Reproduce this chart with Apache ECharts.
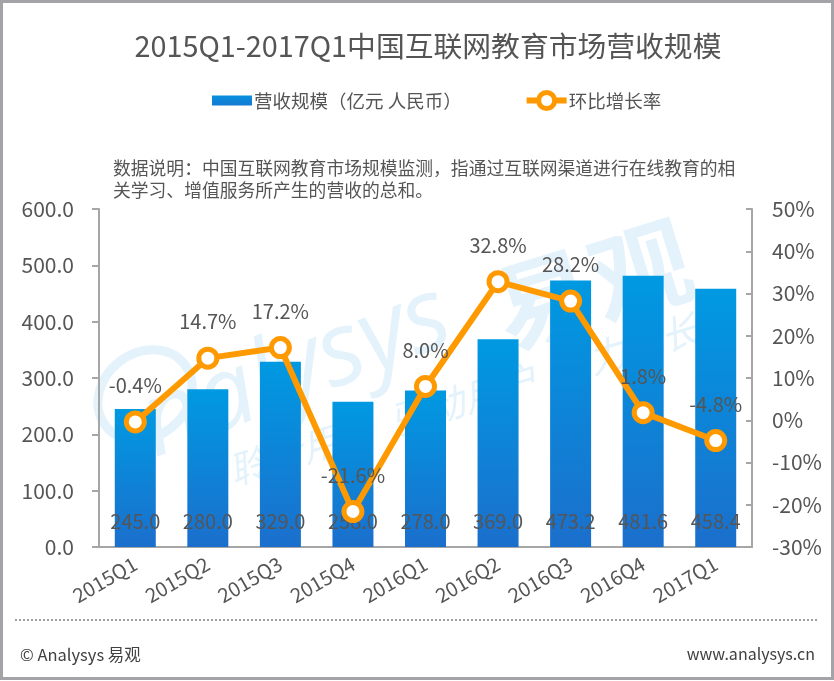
<!DOCTYPE html>
<html><head><meta charset="utf-8">
<style>html,body{margin:0;padding:0;background:#fff}#c{width:834px;height:681px}</style>
<script src="https://cdn.jsdelivr.net/npm/echarts@6/dist/echarts.min.js"></script>
</head><body><div id="c"></div>
<script>
const categories=['2015Q1','2015Q2','2015Q3','2015Q4','2016Q1','2016Q2','2016Q3','2016Q4','2017Q1'];
const revenue=[245.0,280.0,329.0,258.0,278.0,369.0,473.2,481.6,458.4];
const growth=[-0.4,14.7,17.2,-21.6,8.0,32.8,28.2,1.8,-4.8];
const titleText='2015Q1-2017Q1中国互联网教育市场营收规模';
const noteText='数据说明：中国互联网教育市场规模监测，指通过互联网渠道进行在线教育的相\n关学习、增值服务所产生的营收的总和。';
const revenueName='营收规模（亿元 人民币）';
const growthName='环比增长率';
const footerLeft='© Analysys 易观';
const footerRight='www.analysys.cn';
const FONT='"Noto Sans CJK SC","Noto Sans",sans-serif';
const TXT='#555555', AXIS='#a6a6a6', WM='#e4f2fb';
const chart=echarts.init(document.getElementById('c'),null,{renderer:'canvas'});
chart.setOption({
  animation:false,
  textStyle:{fontFamily:FONT},
  title:[
    {text:titleText,left:423,top:27,textAlign:'center',textStyle:{fontSize:28.8,fontWeight:'normal',color:TXT,fontFamily:FONT}},
    {text:noteText,left:108,top:152,textStyle:{fontSize:17.8,fontWeight:'normal',color:TXT,lineHeight:22,fontFamily:FONT}},
    {text:footerLeft,left:15,top:641,textStyle:{fontSize:16.5,fontWeight:'normal',color:'#404040',fontFamily:FONT}},
    {text:footerRight,right:14,top:641,textStyle:{fontSize:16,fontWeight:'normal',color:'#404040',fontFamily:FONT}}
  ],
  legend:{
    left:207,top:85,itemGap:62,itemWidth:40,itemHeight:20,
    textStyle:{fontSize:18.5,color:TXT,fontFamily:FONT,padding:[0,0,0,-3]},
    data:[
      {name:revenueName,icon:'path://M0 5H40V15H0Z M0 0H0.01V0.01Z M0 20H0.01V20.01Z'},
      {name:growthName,lineStyle:{width:6,color:'#ff9900'},itemStyle:{color:'#fff',borderColor:'#ff9900',borderWidth:5}}
    ]
  },
  graphic:{elements:[
    {type:'rect',silent:true,z:-10,shape:{x:1.5,y:1.5,width:831,height:677},style:{fill:'#fff',stroke:'#a3a3a8',lineWidth:3}},
    {type:'line',silent:true,shape:{x1:15,y1:620,x2:818,y2:620},style:{stroke:'#7f7f7f',lineWidth:1.5,lineDash:[2,2]}},
    {type:'ellipse',silent:true,z:-5,x:145,y:395,rotation:-0.9,shape:{cx:0,cy:0,rx:42,ry:50},style:{fill:'none',stroke:WM,lineWidth:9}},
    {type:'text',silent:true,z:-5,x:163,y:478,rotation:0.37,style:{text:'nalysys',font:'italic 102px "Open Sans",sans-serif',fill:WM,textVerticalAlign:'bottom'}},
    {type:'text',silent:true,z:-5,x:512,y:362,rotation:0.3,style:{text:'易观',font:'bold 100px "Noto Sans CJK SC",sans-serif',fill:WM,textVerticalAlign:'bottom'}},
    {type:'text',silent:true,z:-5,x:235,y:490,rotation:0.3,style:{text:'聆听用户  驱动用户  助力成长',font:'italic 38px "Noto Sans CJK SC",sans-serif',fill:WM,textVerticalAlign:'bottom'}}
  ]},
  grid:{left:99,right:82,top:209,bottom:134,containLabel:false},
  xAxis:{type:'category',data:categories,
    axisLine:{lineStyle:{color:AXIS,width:2}},axisTick:{show:false},
    axisLabel:{rotate:30,fontSize:20,color:TXT,margin:15,interval:0,fontFamily:FONT}},
  yAxis:[
    {type:'value',min:0,max:600,interval:100,splitLine:{show:false},
     axisLine:{show:true,lineStyle:{color:AXIS,width:2}},
     axisTick:{show:true,length:7,lineStyle:{color:AXIS,width:2}},
     axisLabel:{fontSize:21,color:TXT,margin:25,formatter:v=>v.toFixed(1),fontFamily:FONT}},
    {type:'value',min:-30,max:50,interval:10,position:'right',splitLine:{show:false},
     axisLine:{show:true,lineStyle:{color:AXIS,width:2}},
     axisTick:{show:true,inside:true,length:6,lineStyle:{color:AXIS,width:2}},
     axisLabel:{fontSize:21,color:TXT,margin:20,formatter:'{value}%',fontFamily:FONT}}
  ],
  series:[
    {name:revenueName,type:'bar',data:revenue,barWidth:41,yAxisIndex:0,z:2,
     itemStyle:{color:new echarts.graphic.LinearGradient(0,0,0,1,[{offset:0,color:'#0099e2'},{offset:1,color:'#1b6fcc'}])},
     label:{show:true,position:'insideBottom',distance:16,fontSize:20,color:TXT,formatter:p=>p.value.toFixed(1),fontFamily:FONT}},
    {name:growthName,type:'line',data:growth,yAxisIndex:1,z:3,symbol:'circle',symbolSize:18,
     lineStyle:{color:'#ff9900',width:6},
     itemStyle:{color:'#fff',borderColor:'#ff9900',borderWidth:5},
     label:{show:true,position:'top',distance:15,fontSize:20,color:TXT,formatter:p=>p.value.toFixed(1)+'%',fontFamily:FONT}}
  ]
});
</script></body></html>
